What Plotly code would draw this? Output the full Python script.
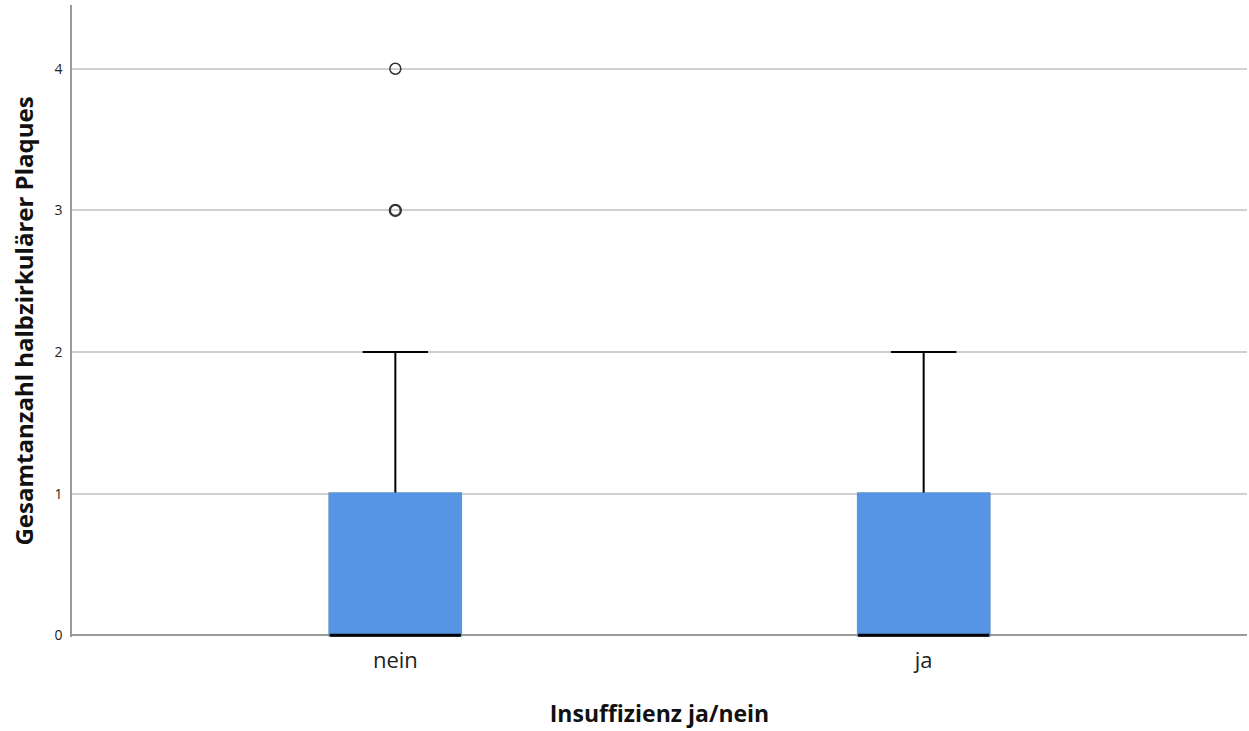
import plotly.graph_objects as go

groups = ["nein", "ja"]
q1 = [0, 0]
median = [0, 0]
q3 = [1, 1]
lower_fence = [0, 0]
upper_fence = [2, 2]
outlier_groups = ["nein", "nein"]
outlier_values = [4, 3]
outlier_counts = [1, 2]
y_ticks = [0, 1, 2, 3, 4]

BLUE = "#5595e4"
BOX_W = 0.248
FONT = "Open Sans"

fig = go.Figure()
# full box with whiskers + caps (black)
fig.add_trace(go.Box(
    x=groups, q1=q1, median=median, q3=q3,
    lowerfence=lower_fence, upperfence=upper_fence,
    width=BOX_W, whiskerwidth=0.5, fillcolor=BLUE,
    line=dict(color="black", width=2), boxpoints=False,
    hoverinfo="skip", showlegend=False))
# cover box outline with fill colour
fig.add_trace(go.Box(
    x=groups, q1=q1, median=median, q3=q3,
    lowerfence=q1, upperfence=q3,
    width=BOX_W, whiskerwidth=0, fillcolor=BLUE,
    line=dict(color=BLUE, width=2.5), boxpoints=False,
    hoverinfo="skip", showlegend=False))
# median line (black)
fig.add_trace(go.Box(
    x=groups, q1=median, median=median, q3=median,
    lowerfence=median, upperfence=median,
    width=BOX_W, whiskerwidth=0, fillcolor="black",
    line=dict(color="black", width=3), boxpoints=False,
    hoverinfo="skip", showlegend=False))
# outliers (overlapping cases drawn with a heavier ring)
fig.add_trace(go.Scatter(
    x=outlier_groups, y=outlier_values, mode="markers",
    marker=dict(symbol="circle-open", size=11, color="#333333",
                line=dict(width=[1.5 + 0.8 * (c - 1) for c in outlier_counts],
                          color="#333333")),
    hoverinfo="skip", showlegend=False))

fig.update_layout(
    width=1249, height=731,
    paper_bgcolor="white", plot_bgcolor="white",
    margin=dict(l=72, r=2, t=5, b=94),
    boxmode="overlay",
    font=dict(family=FONT, color="#222222"),
    xaxis=dict(
        type="category", categoryorder="array", categoryarray=groups,
        range=[-0.612, 1.612], layer="below traces",
        showline=False, showgrid=False, zeroline=False,
        ticks="", ticklabelstandoff=8,
        tickfont=dict(size=22, family=FONT, color="#222222"),
        title=dict(text="<b>Insuffizienz ja/nein</b>",
                   font=dict(size=23, family=FONT, color="#111111"),
                   standoff=32),
    ),
    yaxis=dict(
        range=[-0.012, 4.45], tickvals=y_ticks, ticktext=[str(v) for v in y_ticks],
        layer="below traces",
        showline=True, linecolor="#9a9a9a", linewidth=1.5,
        showgrid=True, gridcolor="#d0d0d0", gridwidth=1.5,
        zeroline=True, zerolinecolor="#9a9a9a", zerolinewidth=2,
        ticks="", ticklabelstandoff=5,
        tickfont=dict(size=14, family=FONT, color="#222222"),
        title=dict(text="<b>Gesamtanzahl halbzirkulärer Plaques</b>",
                   font=dict(size=24, family=FONT, color="#111111"),
                   standoff=14),
    ),
)

fig.write_html("out.html", config={"displayModeBar": False},
               post_script="document.body.style.margin='0';")
